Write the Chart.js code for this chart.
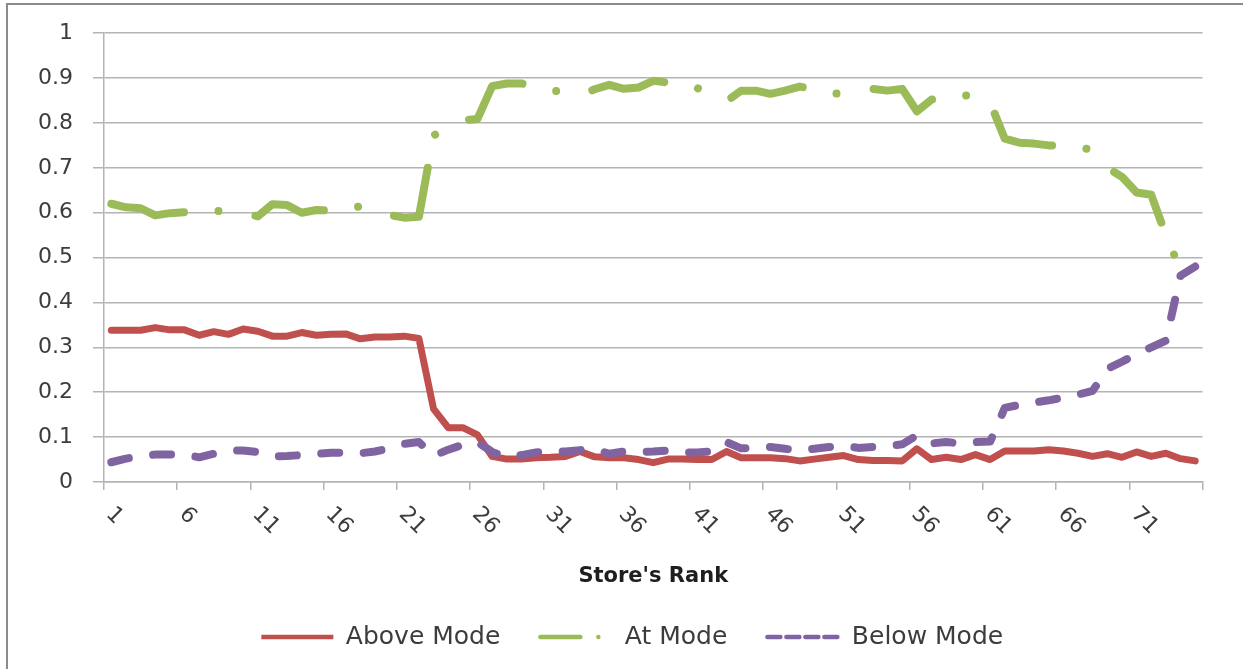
<!DOCTYPE html>
<html>
<head>
<meta charset="utf-8">
<script src="https://cdn.jsdelivr.net/npm/chart.js@4.4.1/dist/chart.umd.min.js"></script>
<style>
  body { margin: 0; background: #fff; }
  #wrap { position: relative; width: 1243px; height: 669px; overflow: hidden; }
  #frame { position: absolute; left: 6px; top: 3px; width: 1300px; height: 700px;
           border-left: 2px solid #8c8c8c; border-top: 2px solid #8c8c8c; pointer-events: none; }
  canvas { position: absolute; left: 0; top: 0; }
</style>
</head>
<body>
<div id="wrap">
  <canvas id="rankChart" width="1243" height="669"></canvas>
  <div id="frame"></div>
</div>
<script>
'use strict';

// store ranks 1..75
var ranks = ['1','2','3','4','5','6','7','8','9','10','11','12','13','14','15','16','17','18','19','20',
  '21','22','23','24','25','26','27','28','29','30','31','32','33','34','35','36','37','38','39','40',
  '41','42','43','44','45','46','47','48','49','50','51','52','53','54','55','56','57','58','59','60',
  '61','62','63','64','65','66','67','68','69','70','71','72','73','74','75'];

// only every 5th rank gets a label
var tickLabels = ['1','6','11','16','21','26','31','36','41','46','51','56','61','66','71'];

var aboveMode = [0.338,0.338,0.338,0.344,0.339,0.339,0.327,0.335,0.329,0.341,
  0.336,0.325,0.325,0.333,0.327,0.329,0.330,0.319,0.323,0.323,
  0.325,0.320,0.163,0.121,0.121,0.105,0.057,0.051,0.051,0.054,
  0.055,0.057,0.068,0.056,0.054,0.054,0.050,0.043,0.051,0.051,
  0.050,0.050,0.068,0.054,0.054,0.054,0.052,0.047,0.051,0.055,
  0.059,0.050,0.048,0.048,0.047,0.074,0.050,0.055,0.050,0.061,
  0.050,0.069,0.069,0.069,0.072,0.069,0.064,0.057,0.063,0.055,
  0.067,0.057,0.064,0.052,0.047];

var atMode = [0.620,0.612,0.610,0.594,0.599,0.601,0.602,0.603,0.605,0.600,
  0.592,0.619,0.617,0.600,0.606,0.605,0.610,0.614,0.610,0.595,
  0.589,0.591,0.772,0.790,0.806,0.809,0.882,0.888,0.888,0.880,
  0.872,0.870,0.862,0.875,0.885,0.876,0.879,0.894,0.890,0.880,
  0.878,0.860,0.848,0.872,0.872,0.865,0.872,0.881,0.875,0.866,
  0.865,0.870,0.876,0.872,0.876,0.826,0.852,0.860,0.862,0.860,
  0.846,0.765,0.756,0.754,0.750,0.748,0.746,0.740,0.700,0.680,
  0.645,0.640,0.550,0.473,0.475];

var belowMode = [0.044,0.052,0.058,0.061,0.061,0.061,0.055,0.063,0.070,0.070,
  0.067,0.057,0.058,0.060,0.063,0.065,0.065,0.064,0.068,0.075,
  0.085,0.089,0.058,0.072,0.083,0.089,0.067,0.055,0.060,0.066,
  0.068,0.068,0.071,0.073,0.063,0.068,0.067,0.068,0.070,0.066,
  0.066,0.068,0.089,0.075,0.076,0.078,0.074,0.070,0.074,0.078,
  0.081,0.076,0.078,0.080,0.084,0.104,0.086,0.089,0.086,0.089,
  0.090,0.165,0.172,0.177,0.182,0.188,0.195,0.203,0.252,0.268,
  0.285,0.300,0.315,0.460,0.480];

var FONT = '"DejaVu Sans", "Liberation Sans", sans-serif';
var TEXT = '#3c3c3c';
var GRID = '#b4b4b4';

// rotated (clockwise) rank labels under the x axis
var rankLabels = {
  id: 'rankLabels',
  afterDraw: function(chart) {
    var xs = chart.scales.x;
    var ctx = chart.ctx;
    ctx.save();
    ctx.font = '22px ' + FONT;
    ctx.fillStyle = TEXT;
    ctx.textAlign = 'left';
    ctx.textBaseline = 'middle';
    tickLabels.forEach(function(lbl) {
      var px = xs.getPixelForValue(ranks.indexOf(lbl));
      ctx.save();
      ctx.translate(px - 2, xs.top + 29);
      ctx.rotate(Math.PI / 4);
      ctx.fillText(lbl, 0, 0);
      ctx.restore();
    });
    ctx.restore();
  }
};

// nudge the legend row a little to the right, like the original
var legendShift = {
  id: 'legendShift',
  afterLayout: function(chart) {
    chart.legend.left += 12;
    chart.legend.right += 12;
  }
};

var ctx = document.getElementById('rankChart').getContext('2d');
var chart = new Chart(ctx, {
  type: 'line',
  data: {
    labels: ranks,
    datasets: [{
      label: 'Above Mode',
      data: aboveMode,
      borderColor: '#C0504D',
      backgroundColor: '#C0504D',
      borderWidth: 7,
      borderCapStyle: 'round',
      borderJoinStyle: 'round',
      pointRadius: 0,
      order: 3,
      legendDash: []
    }, {
      label: 'At Mode',
      data: atMode,
      borderColor: '#9BBB59',
      backgroundColor: '#9BBB59',
      borderWidth: 8,
      borderDash: [75, 34.5, 0.01, 37.5],
      borderCapStyle: 'round',
      borderJoinStyle: 'round',
      pointRadius: 0,
      order: 2,
      legendDash: [40, 18, 0.01, 200]
    }, {
      label: 'Below Mode',
      data: belowMode,
      borderColor: '#8064A2',
      backgroundColor: '#8064A2',
      borderWidth: 8,
      borderDash: [18, 24.5],
      borderCapStyle: 'round',
      borderJoinStyle: 'round',
      pointRadius: 0,
      order: 1,
      legendDash: [13, 6]
    }]
  },
  options: {
    responsive: false,
    animation: false,
    devicePixelRatio: 1,
    layout: { padding: { left: 38, right: 40.5, top: 29, bottom: 9.5 } },
    plugins: {
      tooltip: { enabled: false },
      legend: {
        position: 'bottom',
        labels: {
          usePointStyle: true,
          pointStyleWidth: 72,
          padding: 40,
          color: TEXT,
          font: { family: FONT, size: 25 },
          generateLabels: function(c) {
            return c.data.datasets.map(function(ds, i) {
              return {
                text: ds.label,
                datasetIndex: i,
                pointStyle: 'line',
                strokeStyle: ds.borderColor,
                fillStyle: ds.borderColor,
                lineWidth: 4.5,
                lineCap: i === 0 ? 'butt' : 'round',
                lineDash: ds.legendDash,
                lineDashOffset: 0,
                fontColor: TEXT,
                hidden: false
              };
            });
          }
        }
      }
    },
    scales: {
      x: {
        type: 'category',
        offset: true,
        grid: {
          offset: true,
          drawOnChartArea: false,
          drawTicks: true,
          tickLength: 8,
          lineWidth: 1.5,
          color: function(c) {
            return (c.index === undefined || c.index % 5 === 0) ? GRID : 'rgba(0,0,0,0)';
          }
        },
        border: { display: true, color: GRID, width: 1.5 },
        ticks: { display: false },
        title: {
          display: true,
          text: "Store's Rank",
          color: '#1e1e1e',
          font: { family: FONT, size: 21, weight: 'bold' },
          padding: { top: 74.4, bottom: -5.1 }
        }
      },
      y: {
        min: 0,
        max: 1,
        afterFit: function(scale) { scale.width = 66; },
        grid: { color: GRID, lineWidth: 1.5, tickLength: 11 },
        border: { display: true, color: GRID, width: 1.5 },
        ticks: {
          stepSize: 0.1,
          padding: 20,
          color: TEXT,
          font: { family: FONT, size: 22 },
          callback: function(v) { return String(+v.toFixed(1)); }
        }
      }
    }
  },
  plugins: [rankLabels, legendShift]
});
</script>
</body>
</html>
